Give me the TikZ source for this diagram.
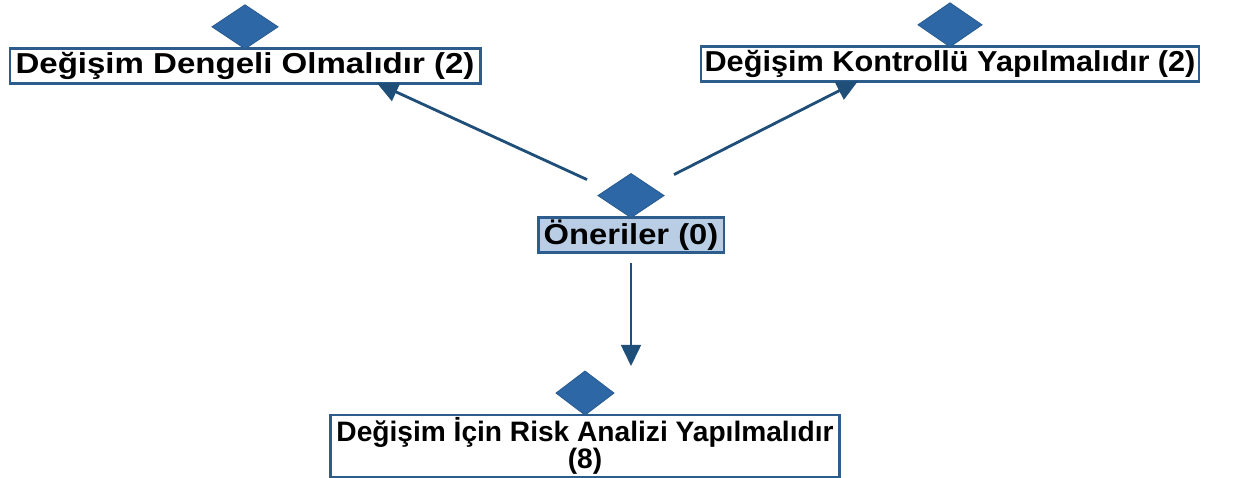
\documentclass[tikz,border=0pt]{standalone}
\usepackage{graphicx}
\usepackage{fontspec}
\setmainfont{Liberation Sans}
\usetikzlibrary{positioning,arrows.meta,shapes.geometric,calc}
\definecolor{linecol}{HTML}{1F4E79}
\definecolor{diafill}{HTML}{2E67A6}
\definecolor{diadraw}{HTML}{2A5C90}
\definecolor{boxdraw}{HTML}{2C5D8C}
\definecolor{boxfill}{HTML}{B9CDE5}
\newcommand{\wide}[2]{\scalebox{#1}[1]{#2}}
\tikzset{
  box/.style={draw=boxdraw,line width=2pt,fill=white,inner xsep=4pt,inner ysep=2.5pt,outer sep=0pt,
    font=\fontsize{20.5}{17}\selectfont\bfseries},
  dia/.style={diamond,draw=diadraw,fill=diafill,line width=0.6pt,minimum width=1.65cm,minimum height=1.1cm,
    inner sep=0pt,outer sep=0pt},
  arr/.style={draw=linecol,line width=2pt,-{Triangle[length=15pt,width=14pt]}}
}
\begin{document}
\begin{tikzpicture}[x=0.025cm,y=-0.025cm]
\useasboundingbox (0,0) rectangle (1242,478);
\node[box] (b1) at (245,66) {\wide{1.146}{Değişim Dengeli Olmalıdır (2)}};
\node[box,inner xsep=2.5pt] (b2) at (950,64) {\wide{1.064}{Değişim Kontrollü Yapılmalıdır (2)}};
\node[box,fill=boxfill,inner ysep=1.5pt] (o) at (631,235) {\wide{1.135}{Öneriler (0)}};
\node[box,font=\fontsize{20}{17.5}\selectfont\bfseries,align=center,minimum width=359pt,minimum height=44pt,
  inner ysep=1pt] (b3) at (585,446) {Değişim İçin Risk Analizi Yapılmalıdır\\(8)};
\node[dia,above=0pt of b1] (d1) {};
\node[dia,above=0pt of b2,minimum width=1.6cm] (d2) {};
\node[dia,above=0pt of o] (d3) {};
\node[dia,above=0pt of b3,minimum width=1.45cm] (d4) {};
\draw[arr] ([shift={(-44,-16)}]d3.center) -- ([shift={(132,0)}]b1.south);
\draw[arr] ([shift={(43,-21)}]d3.center) -- ([shift={(-92,0)}]b2.south);
\draw[arr] ([shift={(0,11)}]o.south) -- ([shift={(0,-5)}]o.south |- d4.north);
\end{tikzpicture}
\end{document}
